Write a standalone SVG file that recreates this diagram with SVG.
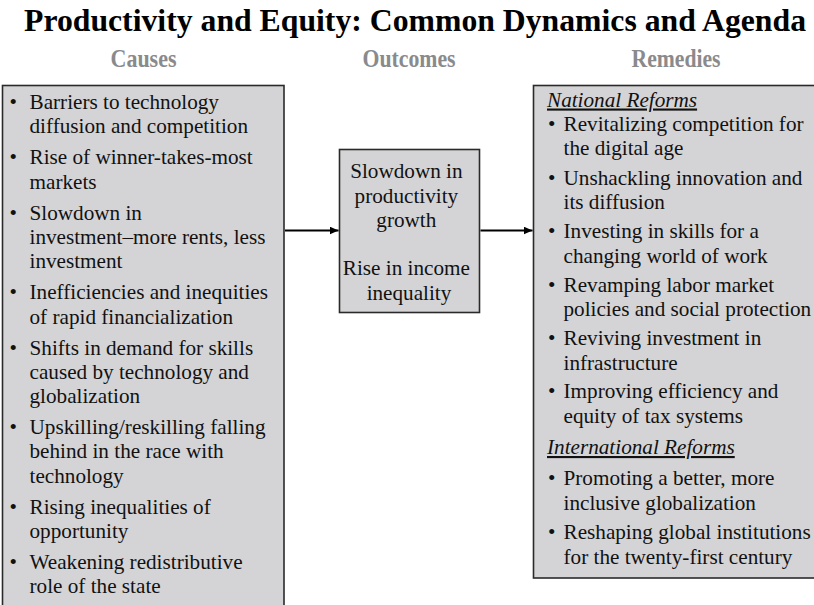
<svg xmlns="http://www.w3.org/2000/svg" width="814" height="605" viewBox="0 0 814 605">
  <style>
    .box { fill: #d4d4d6; stroke: #2a2a2a; stroke-width: 1.6; }
    .title { font-family: "Liberation Serif", "Times New Roman", serif; font-weight: bold; font-size: 32px; fill: #000; }
    .head { font-family: "Liberation Serif", "Times New Roman", serif; font-weight: bold; font-size: 25px; fill: #8a8a8c; text-anchor: middle; }
    .body { font-family: "Liberation Serif", "Times New Roman", serif; font-size: 21.2px; fill: #111; }
    .mid { text-anchor: middle; }
    .sub { font-style: italic; text-decoration: underline; }
    .conn { stroke: #000; stroke-width: 2; fill: none; }
  </style>
  <defs>
    <marker id="arrow" markerUnits="userSpaceOnUse" markerWidth="10" markerHeight="8" refX="9" refY="4" orient="auto">
      <path d="M0,0 L9,4 L0,8 Z" fill="#000"/>
    </marker>
  </defs>

  <rect width="814" height="605" fill="#fff"/>

  <text class="title" x="24" y="31" textLength="782" lengthAdjust="spacingAndGlyphs">Productivity and Equity: Common Dynamics and Agenda</text>

  <g id="column-headers">
    <text class="head" x="143.5" y="67" textLength="66" lengthAdjust="spacingAndGlyphs">Causes</text>
    <text class="head" x="409" y="67" textLength="93" lengthAdjust="spacingAndGlyphs">Outcomes</text>
    <text class="head" x="676" y="67" textLength="89" lengthAdjust="spacingAndGlyphs">Remedies</text>
  </g>

  <!-- Causes -->
  <g id="node-causes">
    <rect class="box" x="2.5" y="85.5" width="281.5" height="530"/>
    <text class="body">
      <tspan x="9.5" y="109">•</tspan><tspan x="29.5" y="109">Barriers to technology</tspan>
      <tspan x="29.5" y="133.3">diffusion and competition</tspan>
      <tspan x="9.5" y="164.3">•</tspan><tspan x="29.5" y="164.3">Rise of winner-takes-most</tspan>
      <tspan x="29.5" y="188.6">markets</tspan>
      <tspan x="9.5" y="219.6">•</tspan><tspan x="29.5" y="219.6">Slowdown in</tspan>
      <tspan x="29.5" y="243.9">investment–more rents, less</tspan>
      <tspan x="29.5" y="268.2">investment</tspan>
      <tspan x="9.5" y="299.2">•</tspan><tspan x="29.5" y="299.2">Inefficiencies and inequities</tspan>
      <tspan x="29.5" y="323.5">of rapid financialization</tspan>
      <tspan x="9.5" y="354.5">•</tspan><tspan x="29.5" y="354.5">Shifts in demand for skills</tspan>
      <tspan x="29.5" y="378.8">caused by technology and</tspan>
      <tspan x="29.5" y="403.1">globalization</tspan>
      <tspan x="9.5" y="434.1">•</tspan><tspan x="29.5" y="434.1">Upskilling/reskilling falling</tspan>
      <tspan x="29.5" y="458.4">behind in the race with</tspan>
      <tspan x="29.5" y="482.7">technology</tspan>
      <tspan x="9.5" y="513.7">•</tspan><tspan x="29.5" y="513.7">Rising inequalities of</tspan>
      <tspan x="29.5" y="538">opportunity</tspan>
      <tspan x="9.5" y="569">•</tspan><tspan x="29.5" y="569">Weakening redistributive</tspan>
      <tspan x="29.5" y="593.3">role of the state</tspan>
    </text>
  </g>

  <!-- Outcomes -->
  <g id="node-outcomes">
    <rect class="box" x="339.5" y="149.5" width="140" height="163"/>
    <text class="body mid">
      <tspan x="409" y="178">Slowdown in</tspan>
      <tspan x="409" y="202.5">productivity</tspan>
      <tspan x="409" y="227">growth</tspan>
      <tspan x="409" y="275">Rise in income</tspan>
      <tspan x="409" y="299.5">inequality</tspan>
    </text>
  </g>

  <!-- Remedies -->
  <g id="node-remedies">
    <rect class="box" x="533.5" y="85.5" width="285" height="492.5"/>
    <text class="body">
      <tspan class="sub" x="547" y="106.5">National Reforms</tspan>
      <tspan x="548" y="130.5">•</tspan><tspan x="563.5" y="130.5">Revitalizing competition for</tspan>
      <tspan x="563.5" y="155">the digital age</tspan>
      <tspan x="548" y="184.5">•</tspan><tspan x="563.5" y="184.5">Unshackling innovation and</tspan>
      <tspan x="563.5" y="209">its diffusion</tspan>
      <tspan x="548" y="238">•</tspan><tspan x="563.5" y="238">Investing in skills for a</tspan>
      <tspan x="563.5" y="262.5">changing world of work</tspan>
      <tspan x="548" y="291.5">•</tspan><tspan x="563.5" y="291.5">Revamping labor market</tspan>
      <tspan x="563.5" y="316">policies and social protection</tspan>
      <tspan x="548" y="345">•</tspan><tspan x="563.5" y="345">Reviving investment in</tspan>
      <tspan x="563.5" y="369.5">infrastructure</tspan>
      <tspan x="548" y="398">•</tspan><tspan x="563.5" y="398">Improving efficiency and</tspan>
      <tspan x="563.5" y="422.5">equity of tax systems</tspan>
      <tspan class="sub" x="547" y="454">International Reforms</tspan>
      <tspan x="548" y="485">•</tspan><tspan x="563.5" y="485">Promoting a better, more</tspan>
      <tspan x="563.5" y="509.5">inclusive globalization</tspan>
      <tspan x="548" y="539">•</tspan><tspan x="563.5" y="539">Reshaping global institutions</tspan>
      <tspan x="563.5" y="563.5">for the twenty-first century</tspan>
    </text>
  </g>

  <g id="connectors">
    <line class="conn" x1="285" y1="230.5" x2="338.5" y2="230.5" marker-end="url(#arrow)"/>
    <line class="conn" x1="480.5" y1="230.5" x2="532.5" y2="230.5" marker-end="url(#arrow)"/>
  </g>
</svg>
